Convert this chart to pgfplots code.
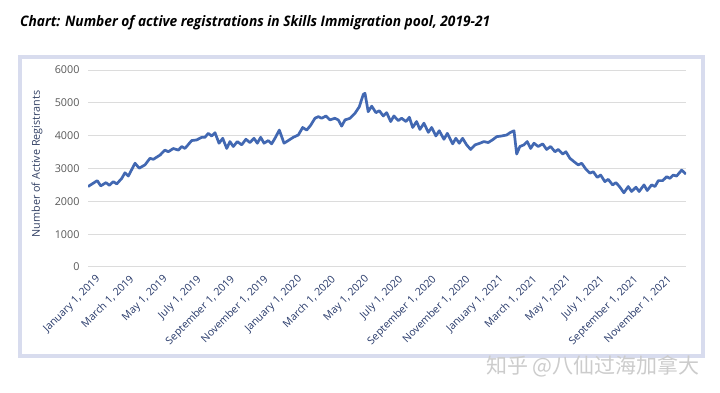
\documentclass[border=0pt]{standalone}
\usepackage{pgfplots}
\pgfplotsset{compat=1.18}
\usepackage{fontspec}
\usepackage{graphicx}
\setmainfont{Open Sans}
\newfontfamily\cjk{Noto Sans CJK SC}
\definecolor{linec}{RGB}{66,104,178}
\definecolor{gridc}{RGB}{220,220,220}
\definecolor{ytickc}{RGB}{89,89,89}
\definecolor{xtickc}{RGB}{38,56,105}
\definecolor{ylabc}{RGB}{50,64,100}
\definecolor{framec}{RGB}{216,220,238}
\begin{document}
\begin{tikzpicture}[x=1pt,y=1pt]
\path[use as bounding box] (0,0) rectangle (720,393);
\fill[white] (0,0) rectangle (720,393);
\draw[framec, line width=3.5pt] (20,37) rectangle (703,336);
\node[anchor=base west, inner sep=0pt] at (20,366) {\resizebox{470pt}{\height}{\fontsize{14.5}{17}\selectfont\bfseries\itshape Chart: Number of active registrations in Skills Immigration pool, 2019-21}};
\begin{axis}[
  at={(88pt,126pt)}, anchor=south west,
  scale only axis, width=598pt, height=197pt,
  xmin=0, xmax=35.6, ymin=0, ymax=6000,
  axis line style={draw=none},
  ymajorgrids, major grid style={gridc, line width=1pt},
  ytick={0,1000,...,6000},
  xtick={0,2,...,34},
  xticklabels={{January 1, 2019}, {March 1, 2019}, {May 1, 2019}, {July 1, 2019}, {September 1, 2019}, {November 1, 2019}, {January 1, 2020}, {March 1, 2020}, {May 1, 2020}, {July 1, 2020}, {September 1, 2020}, {November 1, 2020}, {January 1, 2021}, {March 1, 2021}, {May 1, 2021}, {July 1, 2021}, {September 1, 2021}, {November 1, 2021}},
  tick style={draw=none},
  /pgf/number format/assume math mode=true,
  scaled y ticks=false,
  yticklabel style={font=\fontsize{10.8}{13}\selectfont, text=ytickc, /pgf/number format/1000 sep={}, xshift=-5pt},
  xticklabel style={font=\fontsize{10.5}{12}\selectfont, text=xtickc, rotate=45, anchor=north east, inner sep=1pt, xshift=1pt, yshift=-9pt},
]
\addplot[linec, line width=2.7pt, line join=round, no markers] coordinates {
(0,2450) (0.55,2630) (0.76,2470) (1.07,2570) (1.27,2490) (1.51,2600) (1.71,2530) (2.01,2700) (2.20,2870) (2.40,2770)
(2.80,3160) (3.05,3010) (3.39,3110) (3.69,3310) (3.89,3280) (4.29,3410) (4.58,3560) (4.78,3510) (5.08,3610) (5.38,3560)
(5.58,3670) (5.77,3610) (6.17,3850) (6.47,3870) (6.77,3950) (6.96,3950) (7.16,4070) (7.36,3990) (7.56,4090) (7.80,3770)
(8.02,3920) (8.26,3610) (8.45,3820) (8.65,3670) (8.89,3820) (9.15,3720) (9.40,3890) (9.64,3790) (9.88,3920) (10.08,3770)
(10.28,3950) (10.48,3770) (10.73,3850) (10.93,3750) (11.13,3920) (11.39,4170) (11.67,3770) (11.92,3850) (12.22,3950) (12.52,4020)
(12.78,4250) (13.02,4170) (13.26,4320) (13.51,4530) (13.71,4580) (13.91,4530) (14.17,4600) (14.40,4480) (14.70,4530) (14.90,4480)
(15.10,4290) (15.30,4480) (15.60,4530) (15.89,4680) (16.15,4880) (16.39,5260) (16.49,5290) (16.68,4730) (16.89,4900) (17.14,4700)
(17.34,4760) (17.58,4600) (17.78,4700) (18.02,4430) (18.21,4600) (18.47,4460) (18.67,4530) (18.93,4430) (19.13,4560) (19.33,4250)
(19.56,4430) (19.76,4190) (20.00,4380) (20.26,4100) (20.46,4250) (20.71,3990) (20.91,4150) (21.19,3890) (21.39,4070) (21.71,3750)
(21.90,3920) (22.10,3770) (22.30,3920) (22.54,3720) (22.78,3580) (23.04,3720) (23.33,3770) (23.57,3820) (23.83,3790) (24.13,3890)
(24.33,3970) (24.62,3990) (24.92,4020) (25.12,4090) (25.36,4150) (25.52,3440) (25.71,3670) (25.95,3720) (26.15,3820) (26.35,3610)
(26.55,3770) (26.80,3670) (27.07,3750) (27.30,3580) (27.54,3670) (27.80,3510) (27.99,3580) (28.26,3440) (28.45,3510) (28.69,3310)
(28.93,3210) (29.18,3110) (29.39,3160) (29.64,2980) (29.88,2860) (30.08,2900) (30.32,2730) (30.52,2800) (30.77,2600) (30.97,2670)
(31.23,2500) (31.43,2570) (31.67,2430) (31.90,2260) (32.16,2450) (32.36,2300) (32.62,2430) (32.81,2300) (33.10,2500) (33.29,2330)
(33.55,2500) (33.75,2450) (33.95,2630) (34.21,2630) (34.45,2750) (34.64,2700) (34.84,2800) (35.04,2770) (35.34,2950) (35.60,2830)
};
\end{axis}
\node[rotate=90, font=\fontsize{10.8}{13}\selectfont, text=ylabc] at (37,229) {Number of Active Registrants};
\node[anchor=east, font=\cjk\fontsize{21}{24}\selectfont, text=gray!40, inner sep=0pt] at (700,27) {知乎 @八仙过海加拿大};
\end{tikzpicture}
\end{document}
